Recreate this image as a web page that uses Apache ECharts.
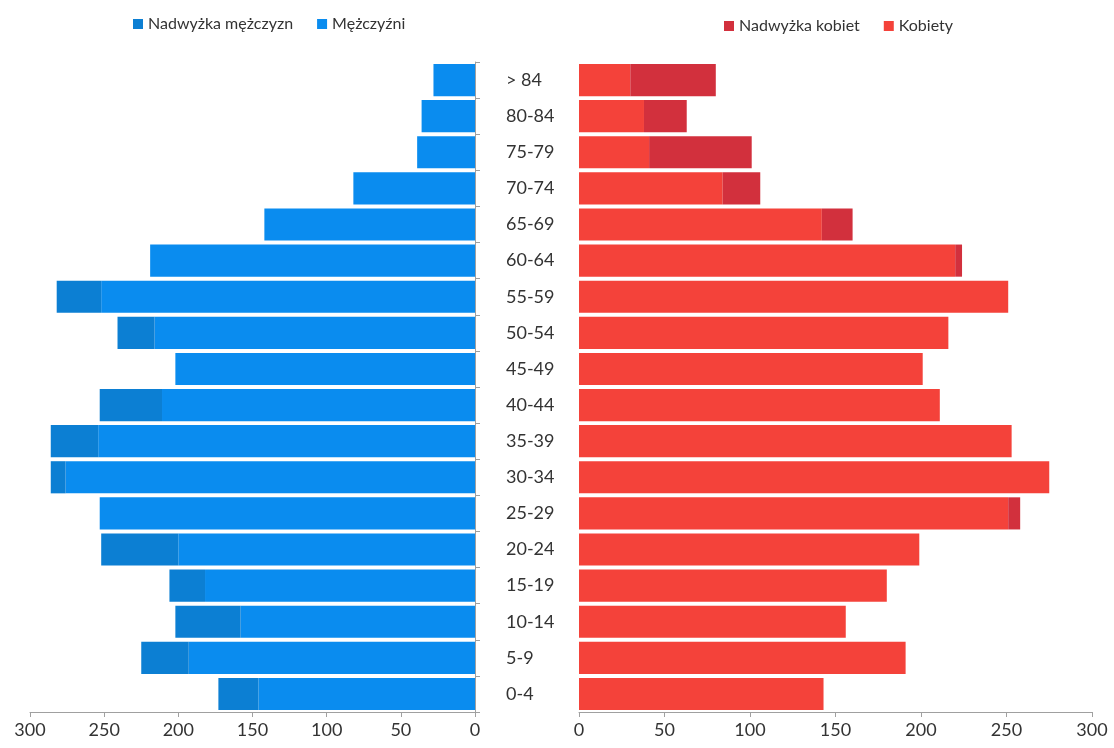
<!DOCTYPE html>
<html><head><meta charset="utf-8">
<script src="https://cdn.jsdelivr.net/npm/echarts@6/dist/echarts.min.js"></script>
<style>html,body{margin:0;padding:0;background:#fff}#c{width:1114px;height:748px}</style>
</head><body><div id="c"></div>
<script>
const ageGroups = ['0-4','5-9','10-14','15-19','20-24','25-29','30-34','35-39','40-44','45-49','50-54','55-59','60-64','65-69','70-74','75-79','80-84','> 84'];
const menBase    = [146,193,158,182,200,253,276,254,211,202,216,252,219,142, 82, 39, 36, 28];
const menSurplus = [ 27, 32, 44, 24, 52,  0, 10, 32, 42,  0, 25, 30,  0,  0,  0,  0,  0,  0];
const womenBase    = [143,191,156,180,199,251,275,253,211,201,216,251,220,142, 84, 41, 38, 30];
const womenSurplus = [  0,  0,  0,  0,  0,  7,  0,  0,  0,  0,  0,  0,  4, 18, 22, 60, 25, 50];
const xTicks = [0,50,100,150,200,250,300];

const font = 'Lato, "Open Sans", sans-serif';
const chart = echarts.init(document.getElementById('c'));
const xAxisCommon = {
  type:'value', min:xTicks[0], max:xTicks[xTicks.length-1], interval:50,
  splitLine:{show:false},
  axisLine:{show:true, lineStyle:{color:'#a0a0a0'}},
  axisTick:{show:true, length:5, lineStyle:{color:'#a0a0a0'}},
  axisLabel:{color:'#333', fontSize:18, fontFamily:font, margin:9}
};
chart.setOption({
  animation:false,
  textStyle:{fontFamily:font},
  legend:[
    {data:['Nadwyżka mężczyzn','Mężczyźni'], left:128, top:11, itemWidth:10, itemHeight:10, itemGap:24,
     textStyle:{fontSize:16, color:'#333', fontFamily:font}, icon:'rect'},
    {data:['Nadwyżka kobiet','Kobiety'], left:719, top:13, itemWidth:10, itemHeight:10, itemGap:24,
     textStyle:{fontSize:16, color:'#333', fontFamily:font}, icon:'rect'}
  ],
  grid:[
    {left:30, right:639, top:62, bottom:36},
    {left:579, right:22, top:62, bottom:36}
  ],
  xAxis:[
    Object.assign({gridIndex:0, inverse:true}, xAxisCommon),
    Object.assign({gridIndex:1}, xAxisCommon)
  ],
  yAxis:[
    {type:'category', gridIndex:0, data:ageGroups, position:'right',
     axisLine:{show:true, lineStyle:{color:'#a0a0a0'}},
     axisTick:{show:true, length:5, lineStyle:{color:'#a0a0a0'}},
     axisLabel:{show:true, color:'#333', fontSize:18, fontFamily:font, align:'left', margin:31}},
    {type:'category', gridIndex:1, data:ageGroups,
     axisLine:{show:false}, axisTick:{show:false}, axisLabel:{show:false}}
  ],
  series:[
    {name:'Mężczyźni', type:'bar', stack:'m', xAxisIndex:0, yAxisIndex:0, data:menBase,
     barCategoryGap:'11%', itemStyle:{color:'#0a8cef'}},
    {name:'Nadwyżka mężczyzn', type:'bar', stack:'m', xAxisIndex:0, yAxisIndex:0, data:menSurplus,
     barCategoryGap:'11%', itemStyle:{color:'#0c7fd3'}},
    {name:'Kobiety', type:'bar', stack:'w', xAxisIndex:1, yAxisIndex:1, data:womenBase,
     barCategoryGap:'11%', itemStyle:{color:'#f4423a'}},
    {name:'Nadwyżka kobiet', type:'bar', stack:'w', xAxisIndex:1, yAxisIndex:1, data:womenSurplus,
     barCategoryGap:'11%', itemStyle:{color:'#d2303d'}}
  ]
});
</script></body></html>
